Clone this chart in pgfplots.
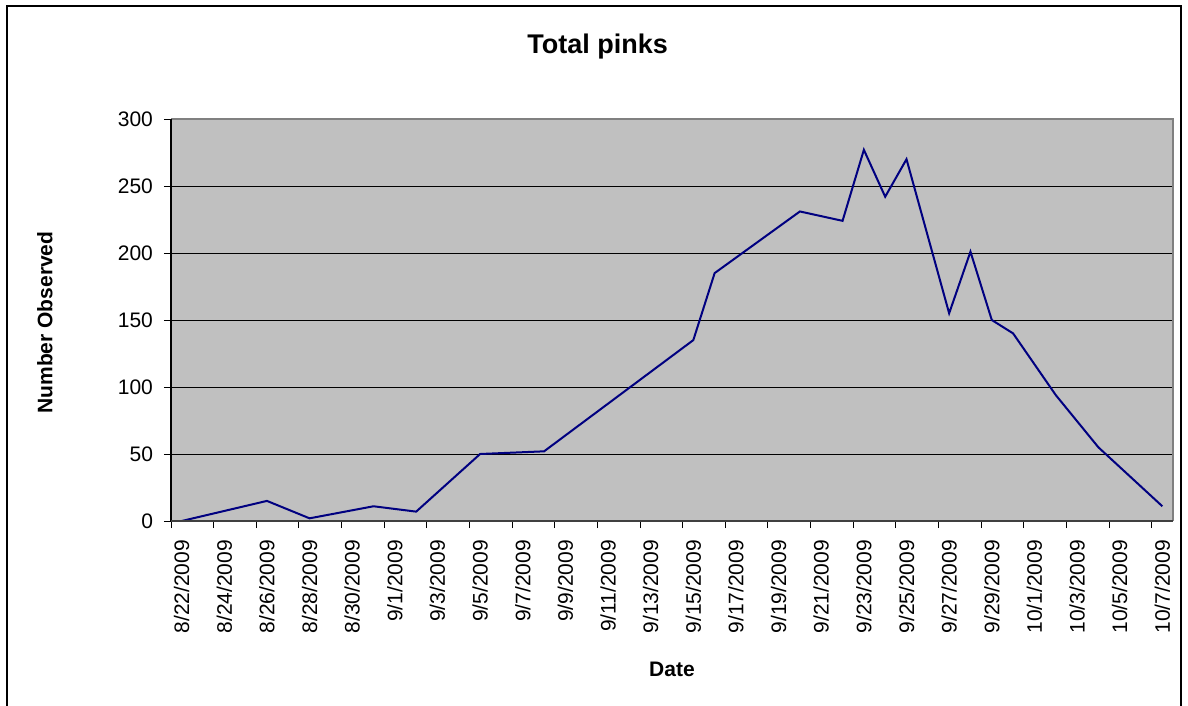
\documentclass[border=0pt]{standalone}
\usepackage{pgfplots}
\pgfplotsset{compat=1.18}
\usepackage{fontspec}
\setmainfont{Liberation Sans}
\definecolor{plotbg}{HTML}{C0C0C0}
\definecolor{navyline}{HTML}{000080}
\pgfplotstableread{
day value
0 0
4 15
6 2
9 11
11 7
14 50
17 52
24 135
25 185
29 231
31 224
32 277
33 242
34 270
36 155
37 201
38 150
39 140
41 94
43 55
46 11
}\pinks
\begin{document}
\begin{tikzpicture}
\useasboundingbox (0,0) rectangle (594pt,-353pt);
\draw[line width=0.9pt] (3.5pt,-3pt) rectangle (590.5pt,-360pt);
\begin{axis}[
  at={(85.5pt,-260.5pt)}, anchor=south west,
  scale only axis, width=501pt, height=201pt,
  xmin=-0.5, xmax=46.5, ymin=0, ymax=300,
  axis background/.style={fill=plotbg},
  axis line style={draw=none},
  ymajorgrids, major grid style={black, line width=0.5pt},
  ytick={0,50,...,300},
  xtick={0,2,...,46},
  xticklabels={8/22/2009,8/24/2009,8/26/2009,8/28/2009,8/30/2009,9/1/2009,9/3/2009,9/5/2009,9/7/2009,9/9/2009,9/11/2009,9/13/2009,9/15/2009,9/17/2009,9/19/2009,9/21/2009,9/23/2009,9/25/2009,9/27/2009,9/29/2009,10/1/2009,10/3/2009,10/5/2009,10/7/2009},
  minor xtick={-0.5,1.5,...,45.5},
  every major x tick/.style={draw=none},
  every minor x tick/.style={black, line width=0.5pt},
  ytick style={black, line width=0.5pt},
  major tick length=3.5pt, minor tick length=3.5pt,
  tick pos=left, tick align=outside,
  xticklabel style={rotate=90, anchor=east, font=\fontsize{10.5}{12.6}\selectfont},
  yticklabel style={font=\fontsize{10.5}{12.6}\selectfont},
  xticklabel shift=2.5pt, yticklabel shift=2pt,
  /pgf/number format/assume math mode=true,
  every axis title shift=0pt,
  title={Total pinks},
  title style={at={(axis description cs:0.4257,1.1617)}, anchor=base, yshift=0pt, font=\fontsize{13.5}{16}\selectfont\bfseries},
  xlabel={Date},
  xlabel style={at={(axis description cs:0.5,-0.388)}, anchor=base, font=\fontsize{10.5}{12.6}\selectfont\bfseries},
  ylabel={Number Observed},
  ylabel style={at={(axis description cs:-0.1183,0.4938)}, anchor=base, font=\fontsize{10.5}{12.6}\selectfont\bfseries},
  clip=false,
]
\draw[color=gray, line width=1pt] (rel axis cs:0,1) -- (rel axis cs:1,1) -- (rel axis cs:1,0);
\addplot[navyline, line width=1pt] table[x=day, y=value] {\pinks};
\draw[black, line width=0.6pt] (rel axis cs:0,0) -- (rel axis cs:0,1);
\draw[black!75, line width=1pt] (rel axis cs:0,0) -- (rel axis cs:1,0);
\end{axis}
\end{tikzpicture}
\end{document}
